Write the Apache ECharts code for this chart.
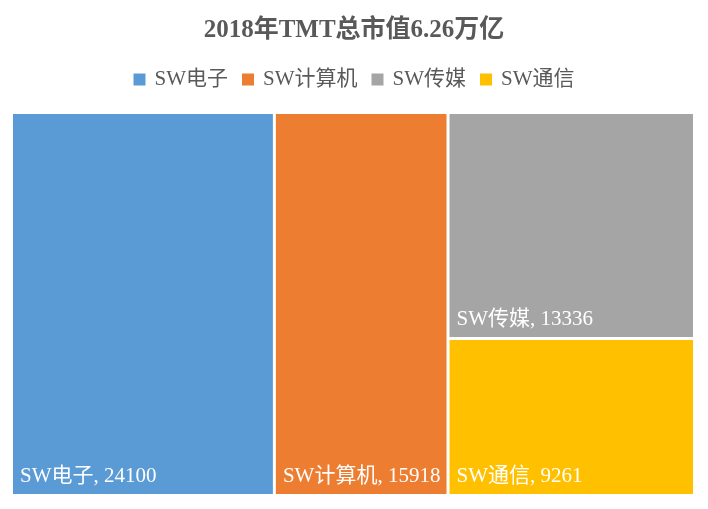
<!DOCTYPE html>
<html>
<head>
<meta charset="utf-8">
<script src="https://cdn.jsdelivr.net/npm/echarts@6/dist/echarts.min.js"></script>
<style>
  html, body { margin: 0; padding: 0; background: #fff; }
  #chart { width: 708px; height: 509px; }
</style>
</head>
<body>
<div id="chart"></div>
<script>
var names = ['SW电子', 'SW计算机', 'SW传媒', 'SW通信'];
var values = [24100, 15918, 13336, 9261];
var colors = ['#5B9BD5', '#ED7D31', '#A5A5A5', '#FFC000'];
var titleText = '2018年TMT总市值6.26万亿';

var fontFamily = "'Liberation Serif', 'Noto Sans CJK SC', serif";

function leaf(i) {
  return { name: names[i], value: values[i], itemStyle: { color: colors[i] } };
}

// 传媒 + 通信 grouped so the layout matches the original (one column on the right)
var treeData = [
  leaf(0),
  leaf(1),
  { name: '', value: values[2] + values[3], itemStyle: { color: '#fff' }, children: [leaf(2), leaf(3)] }
];

// empty series just to feed the legend
var legendSeries = names.map(function (n, i) {
  return { name: n, type: 'bar', data: [], itemStyle: { color: colors[i] } };
});

var myChart = echarts.init(document.getElementById('chart'));
var option = {
  backgroundColor: '#fff',
  title: {
    text: titleText,
    left: 'center',
    top: 13,
    textStyle: { fontSize: 25, fontWeight: 'bold', color: '#595959', fontFamily: fontFamily }
  },
  legend: {
    top: 64,
    left: 'center',
    icon: 'rect',
    itemWidth: 12,
    itemHeight: 12,
    itemGap: 14,
    selectedMode: false,
    data: names,
    textStyle: { fontSize: 21, color: '#595959', fontFamily: fontFamily, padding: [0, 0, 0, 4] }
  },
  grid: { show: false, left: 0, top: 0, width: 1, height: 1 },
  xAxis: { show: false, type: 'category', data: [] },
  yAxis: { show: false, type: 'value' },
  series: legendSeries.concat([
    {
      name: 'TMT',
      type: 'treemap',
      left: 13,
      top: 114,
      right: 15,
      bottom: 15,
      sort: false,
      squareRatio: 1,
      roam: false,
      nodeClick: false,
      breadcrumb: { show: false },
      label: {
        show: true,
        position: 'insideBottomLeft',
        distance: 2,
        formatter: '{b}, {c}',
        color: '#fff',
        fontSize: 21,
        fontFamily: fontFamily
      },
      upperLabel: { show: false },
      itemStyle: { borderWidth: 0, borderColor: '#fff', gapWidth: 3 },
      levels: [
        { itemStyle: { borderWidth: 0, gapWidth: 3, borderColor: '#fff' } },
        { itemStyle: { borderWidth: 0, gapWidth: 3, borderColor: '#fff' } },
        { itemStyle: { borderWidth: 0, gapWidth: 0 } }
      ],
      data: treeData
    }
  ])
};
myChart.setOption(option);
</script>
</body>
</html>
